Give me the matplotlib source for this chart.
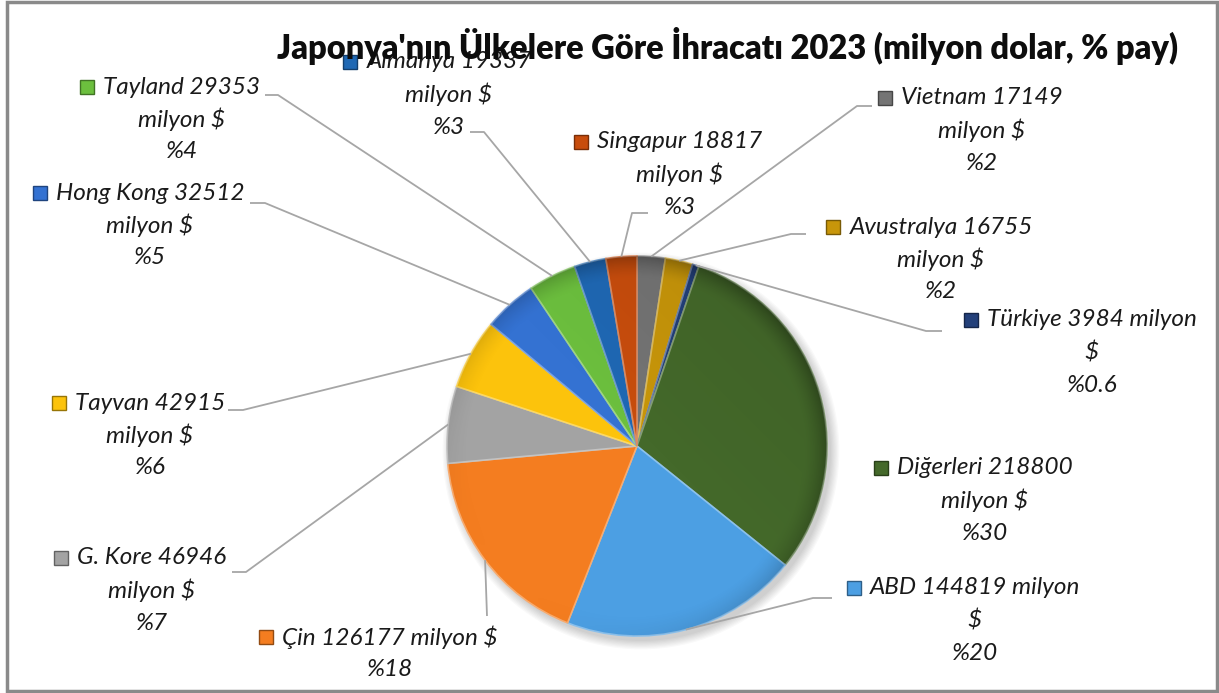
"""
Japonya'nın ülkelere göre ihracatı 2023 - pasta grafik (Excel görünümüne benzer).
"""
import numpy as np
import matplotlib.pyplot as plt
from matplotlib.patches import Rectangle, Circle
from matplotlib.colors import to_rgb

# slice order as drawn, clockwise from 12 o'clock
countries = ['Vietnam', 'Avustralya', 'Türkiye', 'Diğerleri', 'ABD', 'Çin',
             'G. Kore', 'Tayvan', 'Hong Kong', 'Tayland', 'Almanya', 'Singapur']
exports = [17149, 16755, 3984, 218800, 144819, 126177,
           46946, 42915, 32512, 29353, 19337, 18817]
colors = ['#747474', '#c8960a', '#23407a', '#44692a', '#4c9fe3', '#f47d20',
          '#a3a3a3', '#fcc30c', '#3472d2', '#6cbf3e', '#1f68b4', '#c84d0d']
title = "Japonya'nın Ülkelere Göre İhracatı 2023 (milyon dolar, % pay)"

W, H = 1219, 693
FONT = ['Lato', 'DejaVu Sans']

# label layout in image pixels: text centre x, first line y, wrap style
label_pos = {
    'Vietnam':    (982, 98, 'std'),
    'Avustralya': (941, 227, 'std'),
    'Türkiye':    (1092, 320, 'long'),
    'Diğerleri':  (985, 468, 'std'),
    'ABD':        (975, 588, 'long'),
    'Çin':        (390, 637, 'one'),
    'G. Kore':    (152, 558, 'std'),
    'Tayvan':     (150, 403, 'std'),
    'Hong Kong':  (150, 193, 'std'),
    'Tayland':    (182, 87, 'std'),
    'Almanya':    (449, 62, 'std'),
    'Singapur':   (680, 142, 'std'),
}
# leader lines: label-side start x, elbow x, y (image pixels)
leaders = {
    'Vietnam':    (872, 857, 106),
    'Avustralya': (806, 791, 234),
    'Türkiye':    (942, 926, 331),
    'ABD':        (832, 813, 598),
    'Çin':        (487, 487, 616),
    'G. Kore':    (232, 246, 572),
    'Tayvan':     (228, 243, 410),
    'Hong Kong':  (250, 265, 203),
    'Tayland':    (265, 278, 95),
    'Almanya':    (470, 484, 132),
    'Singapur':   (648, 632, 213),
}


def darker(c, f):
    return tuple(np.array(to_rgb(c)) * f)


def lighter(c, f):
    rgb = np.array(to_rgb(c))
    return tuple(rgb + (1 - rgb) * f)


def pct_text(v, total):
    p = v / total * 100
    return '%' + (f'{p:.1f}' if p < 1 else f'{p:.0f}')


def main():
    fig = plt.figure(figsize=(W / 100, H / 100), dpi=100)
    ax = fig.add_axes([0, 0, 1, 1])

    cx, cy, r = 637, H - 446, 190

    # soft drop shadow
    for i in range(8):
        ax.add_patch(Circle((cx + 4, cy - 5), r + i * 1.2, color='k',
                            alpha=0.025, lw=0, zorder=0))

    wedges, _ = ax.pie(exports, colors=colors, startangle=90, counterclock=False,
                       center=(cx, cy), radius=r,
                       wedgeprops=dict(linewidth=1.2, zorder=1))
    for w, c in zip(wedges, colors):
        w.set_edgecolor(lighter(c, 0.35))

    # bevel-like shading, clipped to the pie
    yy, xx = np.mgrid[-1:1:400j, -1:1:400j]
    d = np.sqrt(xx ** 2 + yy ** 2)
    rim = np.clip((d - 0.88) / 0.12, 0, 1) ** 1.5
    dirn = np.clip((xx - yy) / 1.4, -1, 1)
    shade = np.zeros((400, 400, 4))
    shade[..., 3] = 0.28 * rim * (0.5 + 0.5 * dirn) + 0.06 * np.clip(dirn, 0, 1)
    im = ax.imshow(shade, extent=(cx - r, cx + r, cy - r, cy + r),
                   origin='upper', zorder=2, interpolation='bilinear')
    im.set_clip_path(Circle((cx, cy), r, transform=ax.transData))

    ax.set_xlim(0, W)
    ax.set_ylim(0, H)
    ax.set_aspect('equal')
    ax.axis('off')

    total = sum(exports)
    line_h = 32.5
    first_lines = {}
    for name, val, c in zip(countries, exports, colors):
        x, y, mode = label_pos[name]
        pct = pct_text(val, total)
        if mode == 'std':
            lines = [f'{name} {val}', 'milyon $', pct]
        elif mode == 'long':
            lines = [f'{name} {val} milyon', '$', pct]
        else:
            lines = [f'{name} {val} milyon $', pct]
        for k, s in enumerate(lines):
            t = ax.text(x, H - (y + k * line_h), s, ha='center', va='center',
                        fontsize=17.5, style='italic', family=FONT,
                        color='#1a1a1a', zorder=5)
            if k == 0:
                first_lines[name] = (t, c)

    # the title sits over the Almanya label, as in the original chart
    ax.text(728, H - 46, title, ha='center', va='center', fontsize=23.5,
            fontweight='heavy', family=FONT, color='#0d0d0d', zorder=7)

    # legend-key squares next to each label
    fig.canvas.draw()
    for name, (t, c) in first_lines.items():
        bb = t.get_window_extent()
        yc = (bb.y0 + bb.y1) / 2
        ax.add_patch(Rectangle((bb.x0 - 23, yc - 7), 14, 14, facecolor=c,
                               edgecolor=darker(c, 0.6), lw=1, zorder=5))

    # leader lines from label to slice edge
    for w, name in zip(wedges, countries):
        if name not in leaders:
            continue
        x0, xe, y = leaders[name]
        mid = np.deg2rad((w.theta1 + w.theta2) / 2)
        px, py = cx + r * np.cos(mid), cy + r * np.sin(mid)
        ax.plot([x0, xe, px], [H - y, H - y, py], color='#a6a6a6', lw=1.3,
                zorder=3, solid_capstyle='butt')

    # chart border
    fig.patches.append(Rectangle((7 / W, 2 / H), 1210 / W, 689 / H,
                                 transform=fig.transFigure, fill=False,
                                 edgecolor='#8a8a8a', lw=2.5))

    fig.savefig('out.png', dpi=100, facecolor='white')


if __name__ == '__main__':
    main()
